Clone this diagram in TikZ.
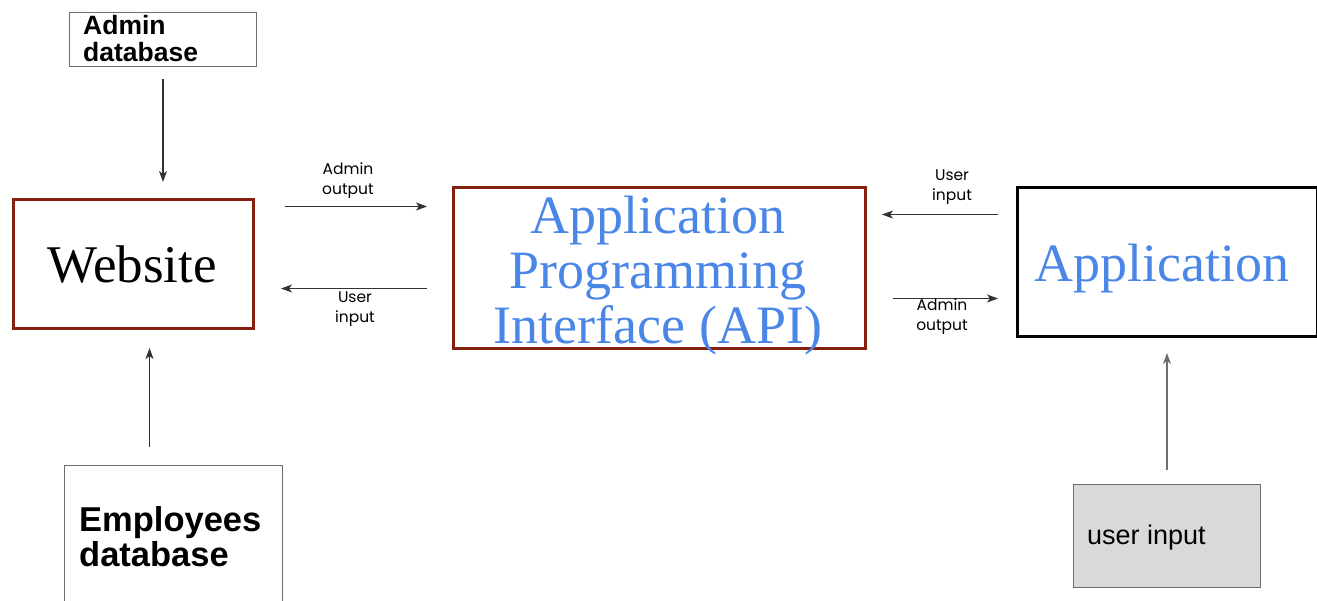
\documentclass[tikz,border=0pt]{standalone}
\usepackage{fontspec}
\setmainfont{Liberation Serif}
\setsansfont{Liberation Sans}
\newfontfamily\labelfont{Poppins}
\usetikzlibrary{arrows.meta,calc}
\definecolor{berry}{HTML}{85200C}
\definecolor{cornflower}{HTML}{4A86E8}
\definecolor{boxgray}{HTML}{D9D9D9}
\definecolor{edgegray}{HTML}{6E6E6E}
\tikzset{
  x=1pt, y=1pt,
  dbbox/.style={draw=edgegray, line width=1pt, inner sep=0pt, text depth=0pt},
  mainbox/.style={draw=berry, line width=3pt, inner sep=0pt},
  appbox/.style={draw=black, line width=3pt, inner sep=0pt},
  big/.style={font=\fontsize{54}{55}\selectfont, align=center},
  flow/.style={-{Stealth[length=11pt,width=8pt,inset=3pt]}, line width=1.1pt, black!80},
  flowlabel/.style={font=\labelfont\fontsize{15.5}{20}\selectfont, align=center, inner sep=0pt},
}
\begin{document}
\begin{tikzpicture}
\useasboundingbox (0,0) rectangle (1317,-600);
\fill[white] (0,0) rectangle (1317,-600);

% boxes
\node[dbbox, minimum width=187, minimum height=54, anchor=north west] (admindb) at (69,-12) {};
\node[anchor=north west, font=\sffamily\bfseries\fontsize{26.5}{27}\selectfont, align=left, inner sep=0pt] (admindbtext) at (83,-15) {Admin\\database};

\node[mainbox, minimum width=240, minimum height=129, anchor=north west] (website) at (12,-198) {};
\node[font=\fontsize{53}{55}\selectfont] (websitetext) at (132,-265) {Website};

\node[mainbox, minimum width=412, minimum height=161, anchor=north west] (api) at (452,-186) {};
\node[big, text=cornflower] (apitext) at (658,-276) {Application\\Programming\\Interface (API)};

\node[appbox, minimum width=300, minimum height=149, anchor=north west] (app) at (1016,-186) {};
\node[big, text=cornflower] (apptext) at (1162,-269) {Application};

\node[dbbox, minimum width=218, minimum height=150, anchor=north west] (empdb) at (64,-465) {};
\node[anchor=north west, font=\sffamily\bfseries\fontsize{34.5}{35}\selectfont, align=left, inner sep=0pt] (empdbtext) at (79,-506) {Employees\\database};

\node[dbbox, fill=boxgray, minimum width=187, minimum height=103, anchor=north west] (userin) at (1073,-484) {};
\node[anchor=west, font=\sffamily\fontsize{27}{29}\selectfont, inner sep=0pt] (userintext) at (1087,-538) {user input};

% connectors
\draw[flow, shorten <=12pt, shorten >=16pt] (admindb.south) -- (admindb.south |- website.north);
\draw[flow, shorten <=18pt, shorten >=18pt] ([xshift=-24pt]empdb.north) -- ([xshift=-24pt]empdb.north |- website.south);
\draw[flow, shorten <=30pt, shorten >=25pt] ([yshift=57.5pt]website.east) -- ([yshift=57.5pt]website.east -| api.west);
\draw[flow, shorten <=25pt, shorten >=26pt] ([yshift=-24.5pt]website.east -| api.west) -- ([yshift=-24.5pt]website.east);
\draw[flow, shorten <=18pt, shorten >=15pt] ([yshift=47.5pt]app.west) -- ([yshift=47.5pt]app.west -| api.east);
\draw[flow, shorten <=26pt, shorten >=18pt] ([yshift=-30.5pt]api.east) -- ([yshift=-30.5pt]api.east -| app.west);
\draw[flow, draw=edgegray, shorten <=14pt, shorten >=15pt] (userin.north) -- (userin.north |- app.south);

% connector labels
\node[flowlabel] (lbladminout) at (348,-181) {Admin\\output};
\node[flowlabel] (lbluserin) at (355,-309) {User\\input};
\node[flowlabel] (lbluserinr) at (952,-187) {User\\input};
\node[flowlabel] (lbladminoutr) at (942,-317) {Admin\\output};
\end{tikzpicture}
\end{document}
